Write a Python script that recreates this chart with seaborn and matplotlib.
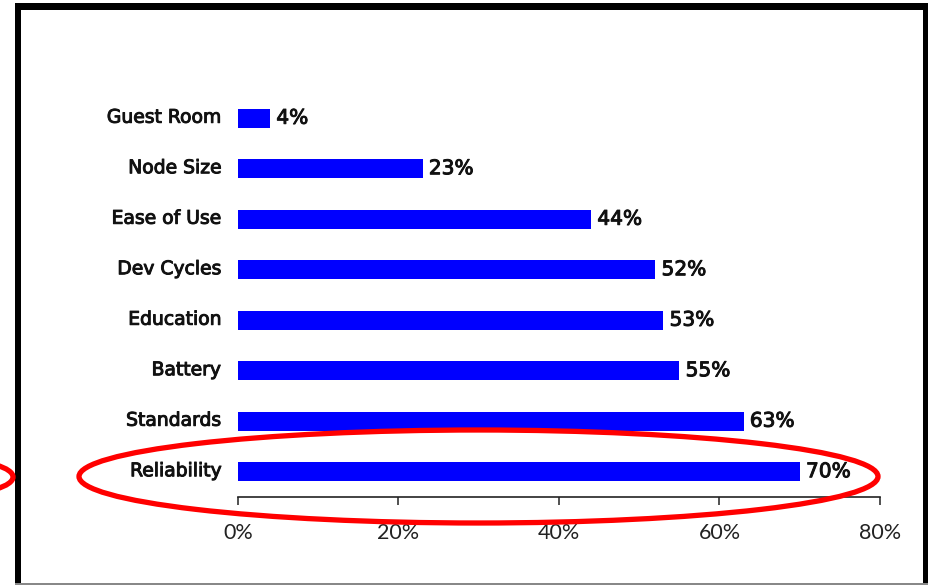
import numpy as np
import pandas as pd
import matplotlib
matplotlib.use("Agg")
import matplotlib.pyplot as plt
import matplotlib.patches as mpatches
import matplotlib.patheffects as pe
import matplotlib.transforms as mtransforms
import seaborn as sns

# Données
categories = ["Guest Room", "Node Size", "Ease of Use", "Dev Cycles",
              "Education", "Battery", "Standards", "Reliability"]
values = [4, 23, 44, 52, 53, 55, 63, 70]
xticks = [0, 20, 40, 60, 80]
xtick_labels = ["0%", "20%", "40%", "60%", "80%"]

df = pd.DataFrame({"factor": categories, "pct": values})

sns.set_style("white")
plt.rcParams["font.family"] = ["Lato", "DejaVu Sans"]
label_font = ["DejaVu Sans"]
heavier = [pe.withStroke(linewidth=0.7, foreground="#111111")]

W, H = 929, 585
fig = plt.figure(figsize=(W / 100, H / 100), dpi=100)
ax = fig.add_axes([238 / W, 1 - 497 / H, (880 - 238) / W, (497 - 93) / H])

sns.barplot(data=df, x="pct", y="factor", orient="h", color="#0000FF",
            width=0.375, saturation=1, edgecolor="none", ax=ax)

ax.set_xlim(0, 80)
ax.set_ylim(len(categories) - 0.5, -0.5)
ax.set_xticks(xticks)
ax.set_xticklabels(xtick_labels, fontsize=15.5, color="#222222")
ax.set_xlabel("")
ax.set_ylabel("")
ax.tick_params(axis="x", bottom=True, direction="out", length=6, width=1.2,
               color="#333333", pad=13)
ax.tick_params(axis="y", left=False, length=0, pad=12)
up = mtransforms.ScaledTranslation(0, 3 / 100, fig.dpi_scale_trans)
for lbl in ax.get_yticklabels():
    lbl.set_family(label_font)
    lbl.set_fontsize(13.5)
    lbl.set_color("#111111")
    lbl.set_path_effects(heavier)
    lbl.set_transform(lbl.get_transform() + up)

for s in ["top", "right", "left"]:
    ax.spines[s].set_visible(False)
ax.spines["bottom"].set_color("#222222")
ax.spines["bottom"].set_linewidth(1.2)

# Étiquettes de valeurs
down = mtransforms.ScaledTranslation(0, -2 / 100, fig.dpi_scale_trans)
txts = ax.bar_label(ax.containers[0], labels=[f"{v}%" for v in values], padding=4.5,
                    fontsize=14.5, family=label_font, color="#111111")
for t in txts:
    t.set_transform(t.get_transform() + down)
    t.set_path_effects(heavier)

# Cadre noir
def px_rect(x0, y0, x1, y1, color):
    fig.add_artist(mpatches.Rectangle((x0 / W, 1 - y1 / H), (x1 - x0) / W, (y1 - y0) / H,
                                      transform=fig.transFigure, facecolor=color,
                                      edgecolor="none"))

px_rect(15, 3, 929, 10, "black")      # haut
px_rect(15, 3, 21, 585, "black")      # gauche
px_rect(923, 3, 929, 585, "black")    # droite
px_rect(15, 583, 929, 585, "#888888")  # bas

# Ellipses rouges (en pixels)
def px_ellipse(cx, cy, w, h):
    fig.add_artist(mpatches.Ellipse((cx / W, 1 - cy / H), w / W, h / H,
                                    transform=fig.transFigure, facecolor="none",
                                    edgecolor="#FF0000", linewidth=3.8))

px_ellipse(478.5, 476.5, 799, 93)
px_ellipse(-45, 477, 116, 34)

fig.savefig("out.png", dpi=100)
plt.close()
